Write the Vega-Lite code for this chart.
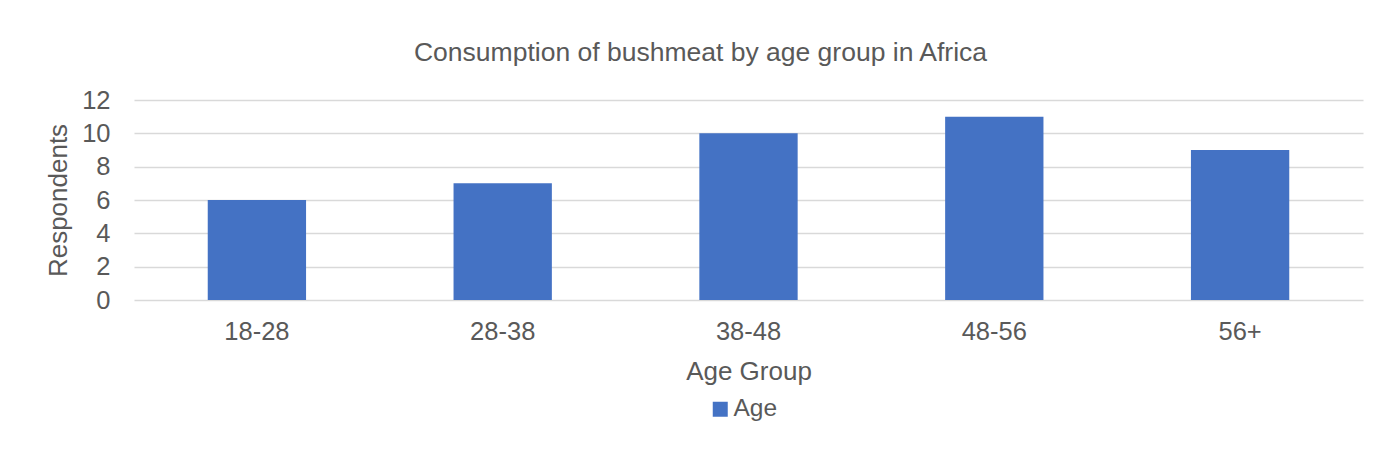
{
  "$schema": "https://vega.github.io/schema/vega-lite/v6.json",
  "width": 1229,
  "height": 200,
  "autosize": {"type": "none"},
  "padding": {"left": 134, "top": 100, "right": 19, "bottom": 172},
  "background": "white",
  "title": {
    "text": "Consumption of bushmeat by age group in Africa",
    "anchor": "middle",
    "frame": "group",
    "dx": -48,
    "offset": 22,
    "fontSize": 26.5,
    "font": "Liberation Sans",
    "fontWeight": "normal",
    "color": "#595959"
  },
  "data": {
    "values": [
      {"group": "18-28", "series": "Age", "respondents": 6},
      {"group": "28-38", "series": "Age", "respondents": 7},
      {"group": "38-48", "series": "Age", "respondents": 10},
      {"group": "48-56", "series": "Age", "respondents": 11},
      {"group": "56+", "series": "Age", "respondents": 9}
    ]
  },
  "mark": {"type": "bar", "width": {"band": 0.4}},
  "encoding": {
    "x": {
      "field": "group",
      "type": "nominal",
      "sort": null,
      "title": "Age Group",
      "scale": {"paddingInner": 0, "paddingOuter": 0},
      "axis": {
        "labelAngle": 0,
        "ticks": false,
        "domain": false,
        "labelPadding": 19,
        "titlePadding": 14,
        "grid": false
      }
    },
    "y": {
      "field": "respondents",
      "type": "quantitative",
      "title": "Respondents",
      "scale": {"domain": [0, 12], "nice": false},
      "axis": {
        "values": [0, 2, 4, 6, 8, 10, 12],
        "ticks": false,
        "domain": false,
        "labelPadding": 24,
        "titlePadding": 10,
        "grid": true,
        "gridColor": "#d9d9d9",
        "gridWidth": 1.3
      }
    },
    "color": {
      "field": "series",
      "type": "nominal",
      "scale": {"range": ["#4472c4"]},
      "legend": {
        "title": null,
        "orient": "none",
        "legendX": 574,
        "legendY": 297,
        "symbolType": "square",
        "symbolSize": 225,
        "symbolOpacity": 1,
        "symbolStrokeWidth": 0,
        "labelFontSize": 24.5,
        "labelFont": "Liberation Sans",
        "labelColor": "#595959",
        "labelOffset": 1
      }
    }
  },
  "config": {
    "view": {"stroke": null},
    "axis": {
      "labelFont": "Liberation Sans",
      "titleFont": "Liberation Sans",
      "labelFontSize": 25.5,
      "titleFontSize": 26,
      "labelColor": "#595959",
      "titleColor": "#595959",
      "titleFontWeight": "normal"
    }
  }
}
